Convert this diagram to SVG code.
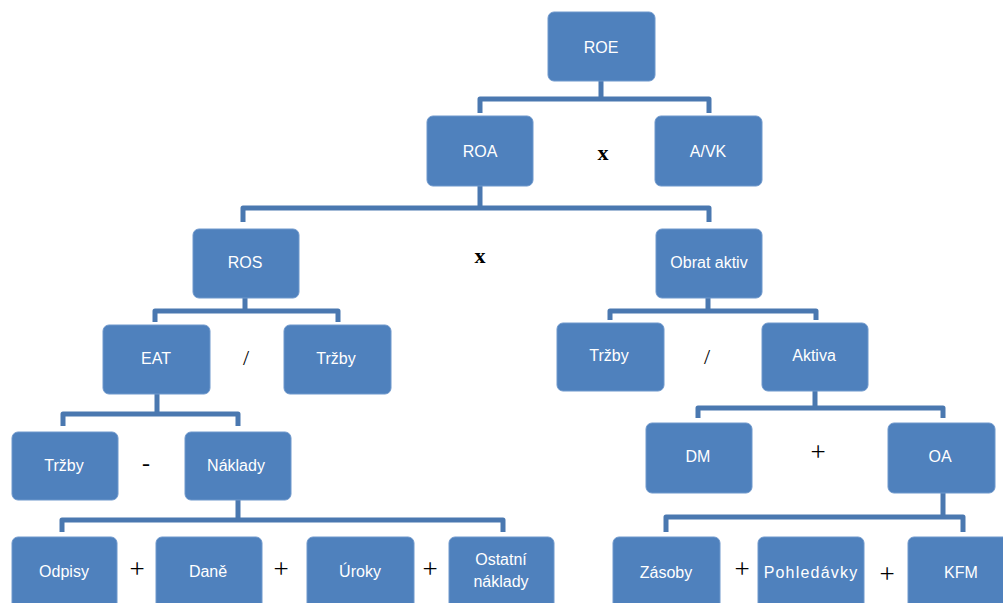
<svg xmlns="http://www.w3.org/2000/svg" width="1003" height="603" viewBox="0 0 1003 603">
<style>
.box{fill:#4f81bd;stroke:#6f98cc;stroke-width:1}
.t{font-family:"Liberation Sans",Arial,sans-serif;font-size:16px;fill:#ffffff;text-anchor:middle;dominant-baseline:central}
.c{fill:none;stroke:#4a78b0;stroke-width:5;stroke-linejoin:round}
.op{font-family:"Liberation Serif","Times New Roman",serif;fill:#000000;text-anchor:middle;dominant-baseline:central}
.plus{font-size:27px}
</style>
<rect width="1003" height="603" fill="#ffffff"/>
<g id="connectors">
<path class="c" d="M601,80 V99 M480,113 V99 H709 V113"/>
<path class="c" d="M480,186 V208 M243,222 V208 H709 V222"/>
<path class="c" d="M245,298 V311 M155,322 V311 H338 V322"/>
<path class="c" d="M708,298 V311 M610,320 V311 H816 V320"/>
<path class="c" d="M157,394 V414 M63,426 V414 H238 V426"/>
<path class="c" d="M815,391 V408 M698,418 V408 H943 V418"/>
<path class="c" d="M238,500 V520 M62,532 V520 H503 V532"/>
<path class="c" d="M943,492 V517 M666,532 V517 H963 V532"/>
</g>
<g id="ROE"><rect class="box" x="548" y="12" width="107" height="69" rx="6"/><text class="t" x="601" y="47">ROE</text></g>
<g id="ROA"><rect class="box" x="427" y="116" width="106" height="70" rx="6"/><text class="t" x="480" y="151">ROA</text></g>
<g id="AVK"><rect class="box" x="655" y="116" width="107" height="70" rx="6"/><text class="t" x="708" y="151">A/VK</text></g>
<g id="ROS"><rect class="box" x="193" y="229" width="106" height="69" rx="6"/><text class="t" x="245" y="262">ROS</text></g>
<g id="ObratAktiv"><rect class="box" x="656" y="229" width="106" height="69" rx="6"/><text class="t" x="709" y="262">Obrat aktiv</text></g>
<g id="EAT"><rect class="box" x="103" y="325" width="107" height="69" rx="6"/><text class="t" x="156" y="358">EAT</text></g>
<g id="Trzby1"><rect class="box" x="284" y="325" width="107" height="69" rx="6"/><text class="t" x="336" y="358">Tržby</text></g>
<g id="Trzby2"><rect class="box" x="557" y="323" width="107" height="68" rx="6"/><text class="t" x="609" y="355">Tržby</text></g>
<g id="Aktiva"><rect class="box" x="762" y="323" width="106" height="68" rx="6"/><text class="t" x="814" y="355">Aktiva</text></g>
<g id="Trzby3"><rect class="box" x="12" y="432" width="106" height="68" rx="6"/><text class="t" x="64" y="465">Tržby</text></g>
<g id="Naklady"><rect class="box" x="185" y="432" width="106" height="68" rx="6"/><text class="t" x="236" y="465">Náklady</text></g>
<g id="DM"><rect class="box" x="646" y="423" width="106" height="70" rx="6"/><text class="t" x="698" y="456">DM</text></g>
<g id="OA"><rect class="box" x="888" y="423" width="107" height="70" rx="6"/><text class="t" x="940" y="456">OA</text></g>
<g id="Odpisy"><rect class="box" x="12" y="537" width="105" height="72" rx="6"/><text class="t" x="64" y="571">Odpisy</text></g>
<g id="Dane"><rect class="box" x="156" y="537" width="106" height="72" rx="6"/><text class="t" x="208" y="571">Daně</text></g>
<g id="Uroky"><rect class="box" x="307" y="537" width="107" height="72" rx="6"/><text class="t" x="360" y="571">Úroky</text></g>
<g id="Ostatni"><rect class="box" x="449" y="537" width="105" height="72" rx="6"/><text class="t" x="501" y="559">Ostatní</text><text class="t" x="501" y="581">náklady</text></g>
<g id="Zasoby"><rect class="box" x="613" y="537" width="107" height="72" rx="6"/><text class="t" x="666" y="572">Zásoby</text></g>
<g id="Pohledavky"><rect class="box" x="758" y="537" width="106" height="72" rx="6"/><text class="t" x="811" y="572" letter-spacing="1.2">Pohledávky</text></g>
<g id="KFM"><rect class="box" x="908" y="537" width="107" height="72" rx="6"/><text class="t" x="961" y="572">KFM</text></g>
<g id="operators">
<text class="op" x="603" y="152" font-size="22" font-weight="bold">x</text>
<text class="op" x="480" y="255" font-size="22" font-weight="bold">x</text>
<text class="op" x="246" y="357" font-size="22" fill="#555">/</text>
<text class="op" x="707" y="356" font-size="22" fill="#555">/</text>
<text class="op" x="146" y="463" font-size="24">-</text>
<text class="op plus" x="818" y="452">+</text>
<text class="op plus" x="137" y="569">+</text>
<text class="op plus" x="281" y="569">+</text>
<text class="op plus" x="430" y="569">+</text>
<text class="op plus" x="742" y="569">+</text>
<text class="op plus" x="887" y="574">+</text>
</g>
</svg>
